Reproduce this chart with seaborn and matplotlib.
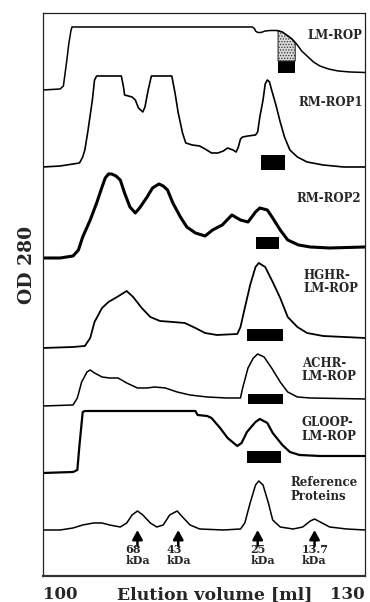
import matplotlib
matplotlib.use('Agg')
import matplotlib.pyplot as plt
import numpy as np
import seaborn as sns

# Elutionsprofile (Volumen in ml, OD 280 mit Versatz je Kurve)
vol_lm = [100.0, 101.6, 101.9, 102.0, 102.2, 102.4, 102.6, 102.7, 119.5, 119.7, 119.8, 120.0, 120.3, 120.7,
          121.2, 121.8, 122.3, 122.7, 123.2, 123.7, 124.1, 124.7, 125.2, 125.8, 126.6, 127.5, 128.6, 130.0]
od_lm = [48.6, 48.7, 49.0, 49.8, 51.4, 53.2, 54.5, 54.9, 54.9, 54.75, 54.5, 54.35, 54.35, 54.5,
         54.55, 54.55, 54.4, 54.1, 53.7, 53.1, 52.5, 51.9, 51.4, 51.0, 50.7, 50.5, 50.4, 50.35]

vol_rm1 = [100.0, 101.6, 103.4, 103.7, 103.9, 104.2, 104.6, 104.8, 105.0, 107.3, 107.5, 107.6, 108.3, 108.6,
           108.9, 109.3, 109.5, 109.8, 110.1, 112.0, 112.3, 112.6, 113.0, 113.3, 113.9, 114.6, 115.1, 115.7,
           116.3, 116.8, 117.2, 117.7, 118.0, 118.2, 118.4, 118.6, 119.1, 119.8, 120.0, 120.2, 120.5, 120.7,
           120.9, 121.1, 121.3, 121.7, 122.1, 122.5, 123.0, 123.7, 124.6, 126.1, 128.0, 130.0]
od_rm1 = [40.9, 41.0, 41.3, 41.9, 42.6, 44.6, 47.6, 49.6, 50.0, 50.0, 48.9, 48.1, 47.9, 47.6,
          46.8, 46.4, 46.9, 48.6, 50.0, 50.0, 48.3, 46.3, 44.3, 43.3, 43.1, 43.0, 42.7, 42.3,
          42.3, 42.5, 42.8, 42.6, 42.4, 42.9, 43.7, 43.9, 44.0, 44.1, 44.4, 45.9, 47.6, 49.2,
          49.6, 49.4, 48.6, 47.1, 45.4, 43.9, 42.6, 41.9, 41.4, 41.1, 40.9, 40.9]

vol_rm2 = [100.0, 101.6, 102.8, 103.3, 103.7, 104.4, 105.0, 105.5, 105.8, 106.1, 106.4, 106.8, 107.2, 107.6,
           108.1, 108.6, 109.0, 109.7, 110.2, 110.8, 111.2, 111.6, 112.1, 112.8, 113.4, 114.2, 115.1, 115.8,
           116.7, 117.6, 118.4, 119.1, 119.8, 120.2, 120.9, 121.4, 122.1, 122.8, 123.8, 124.9, 126.7, 130.0]
od_rm2 = [31.8, 31.8, 32.0, 32.6, 33.9, 35.6, 37.3, 38.9, 39.8, 40.2, 40.2, 40.0, 39.6, 38.3,
          36.9, 36.3, 36.8, 37.9, 38.8, 39.2, 39.0, 38.6, 37.3, 35.9, 34.9, 34.3, 34.0, 34.6,
          35.1, 36.1, 35.6, 35.4, 36.4, 36.8, 36.6, 35.8, 34.6, 33.6, 33.1, 32.9, 32.8, 32.9]

vol_hghr = [100.0, 102.8, 103.9, 104.4, 104.8, 105.5, 106.1, 106.9, 107.8, 108.4, 109.2, 110.0, 110.9, 112.1,
            113.2, 114.2, 115.1, 116.2, 118.1, 118.4, 118.8, 119.3, 119.8, 120.1, 120.7, 121.4, 122.1, 122.8,
            123.7, 124.6, 126.1, 130.0]
od_hghr = [22.8, 22.9, 23.0, 23.8, 25.4, 26.8, 27.4, 27.9, 28.5, 27.9, 26.8, 25.9, 25.5, 25.4,
           25.3, 24.8, 24.3, 24.1, 24.2, 24.9, 26.8, 29.1, 30.9, 31.3, 30.9, 29.4, 27.8, 25.9,
           24.9, 24.3, 24.0, 23.8]

vol_achr = [100.0, 102.8, 103.2, 103.6, 104.1, 104.4, 104.8, 105.5, 106.2, 107.0, 107.8, 108.8, 109.7, 110.4,
            111.4, 112.5, 113.7, 115.3, 117.1, 118.4, 118.6, 119.1, 119.6, 120.0, 120.6, 121.3, 122.1, 122.8,
            123.7, 124.9, 130.0]
od_achr = [17.0, 17.1, 17.8, 19.4, 20.4, 20.6, 20.3, 19.9, 19.8, 19.8, 19.3, 18.8, 18.8, 18.9,
           18.8, 18.4, 18.1, 17.9, 17.8, 17.8, 18.8, 20.8, 21.8, 22.2, 21.9, 20.8, 19.4, 18.4,
           17.9, 17.8, 17.7]

vol_gloop = [100.0, 102.8, 103.2, 103.4, 103.7, 103.9, 114.2, 114.4, 115.3, 115.7, 116.5, 117.2, 118.1, 118.5,
             119.0, 119.8, 120.2, 120.9, 121.4, 122.3, 123.0, 123.9, 125.8, 130.0]
od_gloop = [10.3, 10.4, 10.6, 13.1, 16.4, 16.5, 16.5, 16.1, 16.0, 15.8, 14.8, 13.8, 13.0, 13.3,
            14.4, 15.4, 15.7, 15.3, 14.3, 13.1, 12.4, 12.1, 12.0, 12.0]

vol_ref = [100.0, 101.6, 102.8, 103.7, 104.7, 105.5, 106.2, 107.2, 107.8, 108.3, 108.8, 109.3, 110.0, 110.6,
           111.2, 111.8, 112.5, 113.0, 113.7, 114.6, 116.8, 118.4, 118.8, 119.3, 119.8, 120.1, 120.5, 121.0,
           121.4, 122.1, 123.3, 124.2, 124.9, 125.3, 126.0, 126.7, 128.3, 130.0]
od_ref = [4.6, 4.6, 4.8, 5.1, 5.3, 5.3, 5.1, 4.9, 5.3, 6.1, 6.5, 6.1, 5.3, 4.9,
          5.1, 6.1, 6.5, 5.9, 5.1, 4.7, 4.6, 4.7, 5.3, 7.3, 9.1, 9.5, 9.1, 7.3,
          5.6, 4.9, 4.7, 4.9, 5.5, 5.7, 5.3, 4.9, 4.7, 4.6]

# Beschriftungen der Kurven
trace_labels = ['LM-ROP', 'RM-ROP1', 'RM-ROP2', 'HGHR-\nLM-ROP', 'ACHR-\nLM-ROP', 'GLOOP-\nLM-ROP',
                'Reference\nProteins']
label_vol = [124.6, 123.8, 123.6, 124.3, 124.1, 124.1, 123.1]
label_od = [54.0, 47.35, 37.75, 29.4, 20.6, 14.65, 8.65]

# gepoolte Fraktionen (schwarze Balken)
pool_start = [120.3, 119.8, 119.0, 119.1, 119.0]
pool_end = [122.5, 122.0, 122.4, 122.4, 122.2]
pool_low = [40.6, 32.7, 23.5, 17.2, 11.3]
pool_high = [42.1, 33.9, 24.7, 18.2, 12.5]
# LM-ROP: schwarzer Teil + gepunkteter Teil bis zur Kurve
lm_pool = [121.9, 123.5]
lm_pool_low = 50.3
lm_pool_mid = 51.5

# Referenzproteine
marker_vol = [108.8, 112.6, 120.0, 125.3]
marker_mass = ['68', '43', '25', '13.7']
marker_text_vol = [107.7, 111.5, 119.3, 124.1]

sns.set_style('white')
plt.rcParams['font.family'] = 'DejaVu Serif'
plt.rcParams['font.weight'] = 'bold'
plt.rcParams['hatch.linewidth'] = 0.6

fig = plt.figure(figsize=(3.7, 6.02), dpi=100)
ax = fig.add_axes([0.1162, 0.0432, 0.8703, 0.9344])

traces = [(vol_lm, od_lm, 1.1), (vol_rm1, od_rm1, 1.2), (vol_rm2, od_rm2, 2.2), (vol_hghr, od_hghr, 1.3),
          (vol_achr, od_achr, 1.1), (vol_gloop, od_gloop, 1.6), (vol_ref, od_ref, 1.1)]
for v, od, lw in traces:
    sns.lineplot(x=v, y=od, ax=ax, color='black', linewidth=lw, estimator=None, sort=False)

# Pool-Balken
ax.bar(pool_start, np.subtract(pool_high, pool_low), width=np.subtract(pool_end, pool_start),
       bottom=pool_low, align='edge', color='black', linewidth=0)
ax.bar(lm_pool[0], lm_pool_mid - lm_pool_low, width=lm_pool[1] - lm_pool[0], bottom=lm_pool_low,
       align='edge', color='black', linewidth=0)
xs = np.linspace(lm_pool[0], lm_pool[1], 30)
ax.fill_between(xs, lm_pool_mid, np.interp(xs, vol_lm, od_lm), facecolor='#d8d8d8', hatch='......',
                edgecolor='#333333', linewidth=0.8)

for name, x, y in zip(trace_labels, label_vol, label_od):
    ax.text(x, y, name, ha='left', va='center', fontsize=8.5, weight='bold', linespacing=1.05)

for v, m, tv in zip(marker_vol, marker_mass, marker_text_vol):
    ax.annotate('', xy=(v, 4.6), xytext=(v, 3.0),
                arrowprops=dict(arrowstyle='-|>,head_length=0.55,head_width=0.3', mutation_scale=10,
                                lw=1.8, color='black', shrinkA=0, shrinkB=0))
    ax.text(tv, 2.6, m, ha='left', va='center', fontsize=8, weight='bold')
    ax.text(tv, 1.5, 'kDa', ha='left', va='center', fontsize=8, weight='bold')

ax.set_xlim(100, 130)
ax.set_ylim(0, 56.25)
ax.set_yticks([])
ax.set_xticks([100, 130])
ax.set_xticklabels(['100', '130'], fontsize=12, weight='bold')
lbls = ax.get_xticklabels()
lbls[0].set_ha('left')
lbls[1].set_ha('right')
ax.tick_params(axis='x', length=0, pad=7.5)

ax.set_xlabel('Elution volume [ml]', fontsize=12.5, weight='bold')
ax.xaxis.set_label_coords(0.534, -0.0405)
ax.xaxis.label.set_va('baseline')
ax.set_ylabel('OD 280', fontsize=13.5, weight='bold')
ax.yaxis.set_label_coords(-0.0512, 0.553)
ax.yaxis.label.set_va('center')

for s in ['left', 'right', 'top']:
    ax.spines[s].set_color('#222222')
    ax.spines[s].set_linewidth(0.9)
ax.spines['bottom'].set_color('#333333')
ax.spines['bottom'].set_linewidth(1.6)

fig.savefig('out.png', dpi=100)
